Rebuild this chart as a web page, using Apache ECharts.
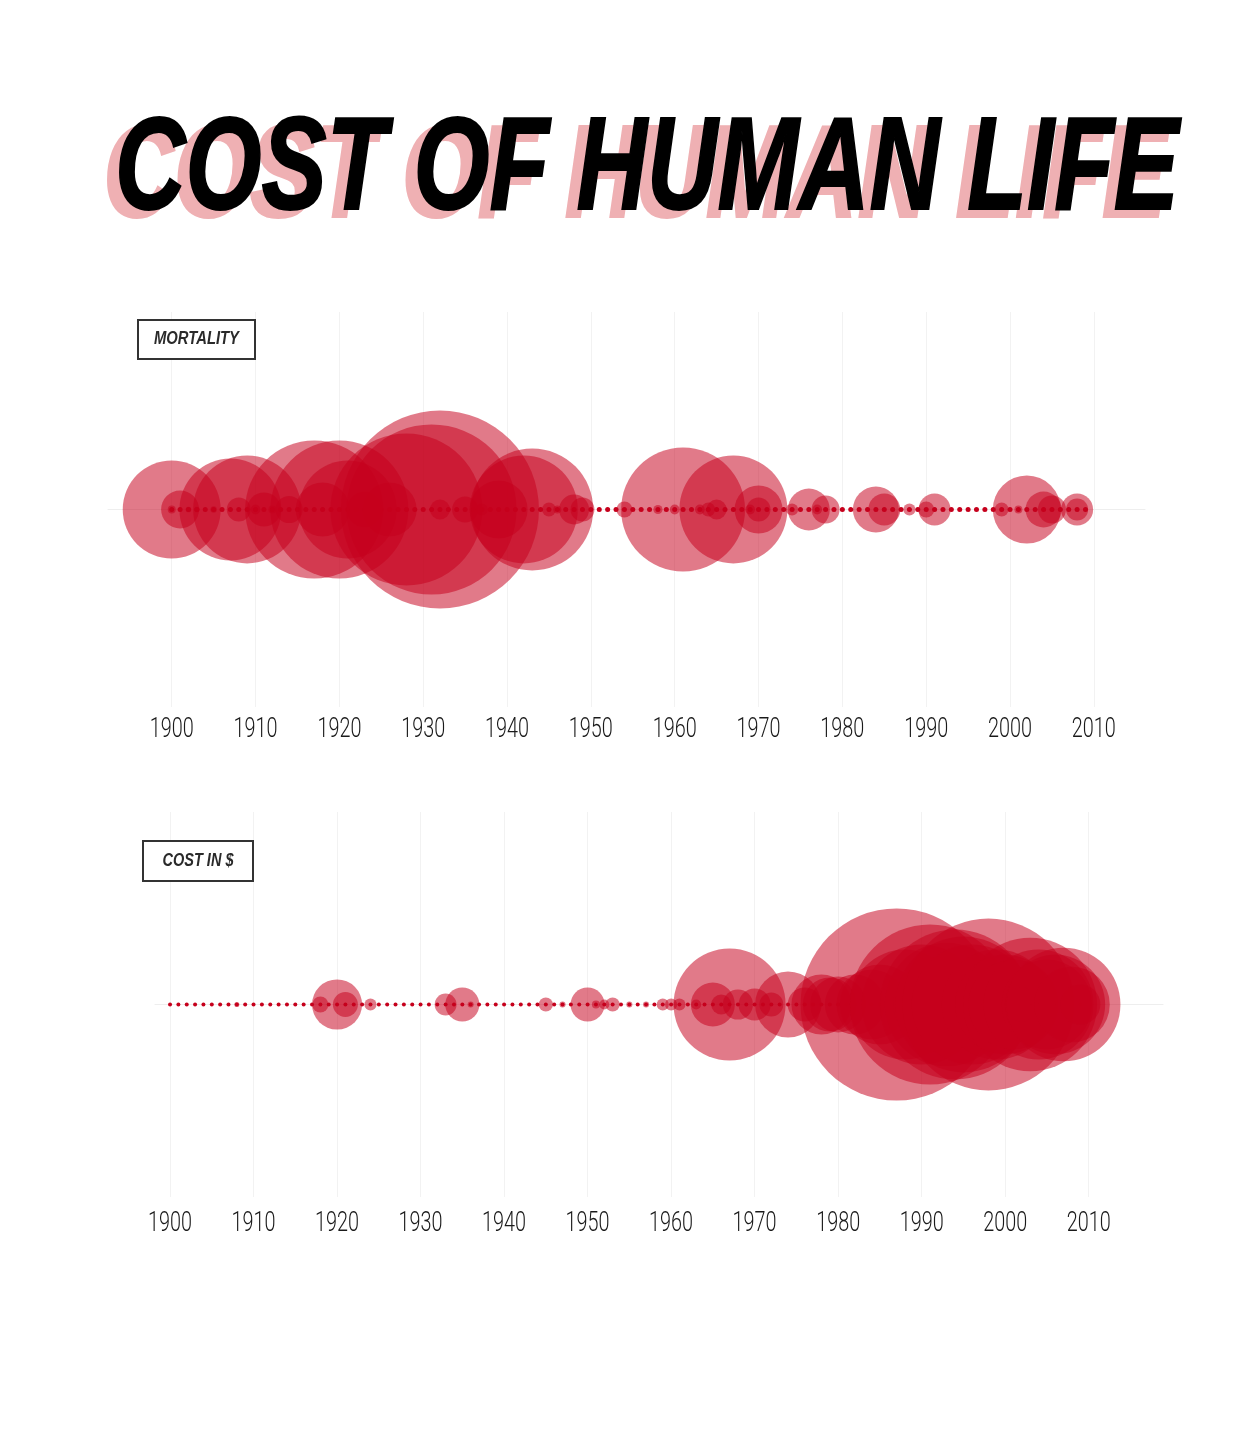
<!DOCTYPE html>
<html>
<head>
<meta charset="utf-8">
<script src="https://cdn.jsdelivr.net/npm/echarts@6/dist/echarts.min.js"></script>
<style>
html,body{margin:0;padding:0;background:#fff;}
#main{width:1260px;height:1432px;}
</style>
</head>
<body>
<div id="main"></div>
<script>
// ---- DATA ----
const titleText = 'COST OF HUMAN LIFE';
const panelLabels = ['MORTALITY', 'COST IN $'];
const tickYears = [1900, 1910, 1920, 1930, 1940, 1950, 1960, 1970, 1980, 1990, 2000, 2010];
const dotYears = [1900,1901,1902,1903,1904,1905,1906,1907,1908,1909,1910,1911,1912,1913,1914,1915,1916,1917,1918,1919,
  1920,1921,1922,1923,1924,1925,1926,1927,1928,1929,1930,1931,1932,1933,1934,1935,1936,1937,1938,1939,
  1940,1941,1942,1943,1944,1945,1946,1947,1948,1949,1950,1951,1952,1953,1954,1955,1956,1957,1958,1959,
  1960,1961,1962,1963,1964,1965,1966,1967,1968,1969,1970,1971,1972,1973,1974,1975,1976,1977,1978,1979,
  1980,1981,1982,1983,1984,1985,1986,1987,1988,1989,1990,1991,1992,1993,1994,1995,1996,1997,1998,1999,
  2000,2001,2002,2003,2004,2005,2006,2007,2008,2009];

// Mortality events (deaths, thousands)
const mortalityYears  = [1900,1900,1901,1902,1903,1905,1907,1908,1909,1910,1911,1912,1914,1917,1918,1920,1921,1923,1926,1928,1931,1932,1932,1935,1937,1939,1942,1943,1945,1946,1948,1949,1954,1958,1960,1961,1963,1964,1965,1967,1969,1970,1970,1974,1976,1977,1978,1984,1985,1988,1990,1991,1999,2001,2002,2004,2005,2008,2008];
const mortalityValues = [906,6,136,3,3,4,980,54,1100,9,109,6,70,1800,275,1800,906,120,275,2180,2730,3700,38,64,14,317,1100,1405,18,6,85,54,24,8,9,1450,9,18,38,1100,9,217,54,14,166,9,74,200,97,14,24,97,18,6,436,122,74,97,46];

// Cost events (damage, $ billions)
const costYears  = [1908,1918,1920,1921,1924,1933,1935,1936,1945,1947,1950,1951,1952,1953,1955,1957,1959,1960,1961,1963,1965,1966,1967,1968,1970,1972,1974,1976,1978,1979,1980,1982,1984,1985,1987,1988,1990,1991,1992,1993,1994,1995,1996,1998,1999,2000,2001,2002,2003,2004,2005,2006,2007,2008,2009];
const costValues = [0.14,1.4,13.6,3.4,0.8,2.6,6.3,0.2,1.1,0.2,6.3,0.35,0.55,1.1,0.2,0.2,0.8,0.8,0.8,0.55,10.5,2.2,68,4.9,5.6,3.1,23.6,6.3,19.5,15.8,17,19.5,26.6,34.7,200,65.6,78,139,44,83,122,100,78,160,65.6,54,44,6.3,97,65.6,44,54,70,31,8.7];

// ---- STYLE / LAYOUT ----
const RED = '#c6001c';
const titleFont = 'italic bold 132px "Liberation Sans", Arial, sans-serif';
const boxFont = 'italic bold 18px "Liberation Sans", Arial, sans-serif';
const tickFont = '300 27px Roboto, sans-serif';

const mctx = document.createElement('canvas').getContext('2d');
function fitScale(text, font, targetWidth) {
  mctx.font = font;
  return targetWidth / mctx.measureText(text).width;
}
const titleScale = fitScale(titleText, titleFont, 1064);
const boxScale0 = fitScale(panelLabels[0], boxFont, 85);
const boxScale1 = fitScale(panelLabels[1], boxFont, 71);
const tickScale = fitScale('1900', tickFont, 44);

const chart = echarts.init(document.getElementById('main'));

function xAxisFor(gridIndex, min, max) {
  return {
    gridIndex, type: 'value', min, max,
    axisLine: {show: true, lineStyle: {color: '#eeeeee', width: 1}},
    axisTick: {show: false, customValues: tickYears},
    axisLabel: {show: false, customValues: tickYears},
    splitLine: {show: true, lineStyle: {color: '#f2f2f2', width: 1}}
  };
}
function yAxisFor(gridIndex) {
  return {gridIndex, type: 'value', min: -1, max: 1, show: false, splitLine: {show: false}};
}
function tickLabelSeries(axisIndex, offset) {
  return {
    type: 'custom', xAxisIndex: axisIndex, yAxisIndex: axisIndex, clip: false, silent: true, z: 5,
    data: tickYears.map(y => [y]),
    renderItem: (params, api) => {
      const p = api.coord([api.value(0), -1]);
      return {
        type: 'text', x: p[0], y: p[1] + offset, scaleX: tickScale,
        style: {text: String(api.value(0)), font: tickFont, fill: '#1a1a1a', align: 'center', verticalAlign: 'middle'}
      };
    }
  };
}
function boxLabel(text, x, y, w, h, s) {
  return {
    type: 'group', z: 100, children: [
      {type: 'rect', z: 100, shape: {x: x, y: y, width: w, height: h},
        style: {fill: '#ffffff', stroke: '#333333', lineWidth: 2}},
      {type: 'text', z: 101, x: x + w / 2, y: y + h / 2, scaleX: s,
        style: {text: text, font: boxFont, fill: '#2a2a2a', align: 'center', verticalAlign: 'middle'}}
    ]
  };
}

chart.setOption({
  backgroundColor: '#ffffff',
  animation: false,
  graphic: [
    {type: 'text', x: 103, y: 181, scaleX: titleScale, z: 1,
      style: {text: titleText, font: titleFont, fill: '#efb0b3', stroke: '#efb0b3', lineWidth: 2, align: 'left', verticalAlign: 'middle'}},
    {type: 'text', x: 115, y: 173, scaleX: titleScale, z: 2,
      style: {text: titleText, font: titleFont, fill: '#000000', stroke: '#000000', lineWidth: 2, align: 'left', verticalAlign: 'middle'}},
    boxLabel(panelLabels[0], 138, 320, 117, 39, boxScale0),
    boxLabel(panelLabels[1], 143, 841, 110, 40, boxScale1)
  ],
  grid: [
    {left: 108, right: 1260 - 1145, top: 312, height: 395},
    {left: 155, right: 1260 - 1163, top: 812, height: 385}
  ],
  xAxis: [
    xAxisFor(0, 1892.4, 2016.1),
    xAxisFor(1, 1898.2, 2018.9)
  ],
  yAxis: [yAxisFor(0), yAxisFor(1)],
  series: [
    {type: 'scatter', xAxisIndex: 0, yAxisIndex: 0, symbolSize: 5, z: 2,
      itemStyle: {color: RED, opacity: 1},
      data: dotYears.map(y => [y, 0])},
    {type: 'scatter', xAxisIndex: 0, yAxisIndex: 0, z: 3,
      symbolSize: v => 2 * 1.6275 * Math.sqrt(v[2]),
      itemStyle: {color: RED, opacity: 0.52},
      data: mortalityYears.map((y, i) => [y, 0, mortalityValues[i]])},
    {type: 'scatter', xAxisIndex: 1, yAxisIndex: 1, symbolSize: 4, z: 2,
      itemStyle: {color: RED, opacity: 1},
      data: dotYears.map(y => [y, 0])},
    {type: 'scatter', xAxisIndex: 1, yAxisIndex: 1, z: 3,
      symbolSize: v => 2 * 6.79 * Math.sqrt(v[2]),
      itemStyle: {color: RED, opacity: 0.52},
      data: costYears.map((y, i) => [y, 0, costValues[i]])},
    tickLabelSeries(0, 23),
    tickLabelSeries(1, 27)
  ]
});
</script>
</body>
</html>
